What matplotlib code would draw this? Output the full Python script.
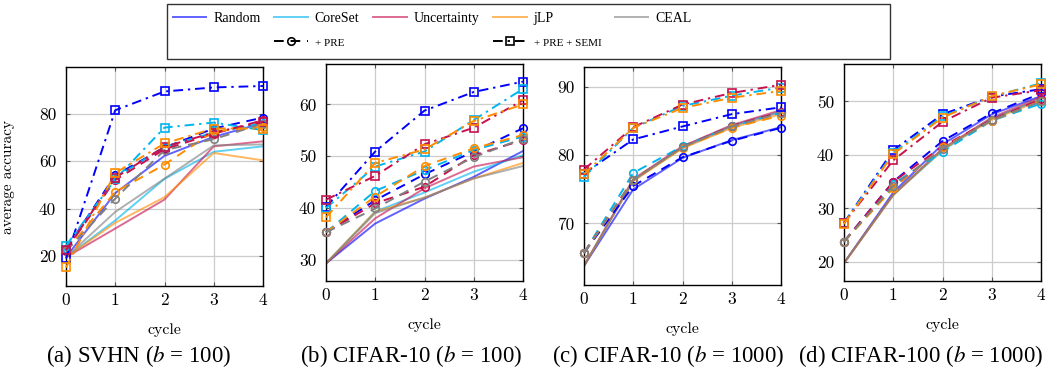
import matplotlib
matplotlib.use("Agg")
import matplotlib.pyplot as plt
from matplotlib.lines import Line2D
from matplotlib.patches import Rectangle

plt.rcParams['font.family'] = ['cmr10', 'DejaVu Serif']
plt.rcParams['axes.unicode_minus'] = False
plt.rcParams['mathtext.fontset'] = 'stix'

cycles = [0, 1, 2, 3, 4]
methods = ['Random', 'CoreSet', 'Uncertainty', 'jLP', 'CEAL']
colors = {'Random': '#0000ff', 'CoreSet': '#00b4f0', 'Uncertainty': '#c8104e',
          'jLP': '#ff8c00', 'CEAL': '#808080'}

# ---- (a) SVHN (b = 100)
svhn_base = {'Random': [19.5, 46.5, 62.2, 70.2, 76.0],
             'CoreSet': [19.5, 35.0, 52.5, 63.9, 66.2],
             'Uncertainty': [19.5, 31.6, 43.8, 66.2, 68.3],
             'jLP': [19.5, 34.0, 44.8, 63.4, 60.3],
             'CEAL': [19.5, 38.6, 52.6, 66.6, 67.0]}
svhn_pre = {'Random': [23.0, 54.0, 65.7, 73.7, 78.3],
            'CoreSet': [23.0, 53.0, 66.0, 72.0, 76.0],
            'Uncertainty': [22.5, 52.0, 65.0, 71.5, 77.2],
            'jLP': [22.0, 47.0, 58.5, 72.5, 74.4],
            'CEAL': [22.0, 44.2, 64.6, 69.2, 75.8]}
svhn_semi = {'Random': [19.0, 81.4, 89.3, 91.0, 91.6],
             'CoreSet': [24.4, 52.3, 74.1, 76.2, 73.0],
             'Uncertainty': [22.5, 53.0, 66.0, 72.0, 76.5],
             'jLP': [15.2, 55.0, 67.4, 73.7, 73.7]}

# ---- (b) CIFAR-10 (b = 100)
c10s_base = {'Random': [29.3, 37.0, 41.8, 46.0, 51.0],
             'CoreSet': [29.3, 39.3, 43.0, 47.0, 50.2],
             'Uncertainty': [29.3, 38.0, 43.8, 48.0, 49.8],
             'jLP': [29.3, 39.3, 42.0, 45.7, 48.7],
             'CEAL': [29.3, 39.0, 42.0, 45.7, 48.1]}
c10s_pre = {'Random': [35.3, 41.5, 46.5, 50.9, 55.4],
            'CoreSet': [35.3, 43.3, 47.3, 51.2, 53.8],
            'Uncertainty': [35.3, 40.9, 44.1, 50.2, 53.1],
            'jLP': [35.3, 42.2, 48.1, 51.5, 54.1],
            'CEAL': [35.3, 39.9, 45.1, 49.8, 53.4]}
c10s_semi = {'Random': [40.2, 50.9, 58.8, 62.4, 64.4],
             'CoreSet': [40.0, 48.0, 50.9, 57.0, 63.0],
             'Uncertainty': [41.6, 46.2, 52.3, 55.5, 60.8],
             'jLP': [38.2, 48.7, 51.3, 56.8, 60.0]}

# ---- (c) CIFAR-10 (b = 1000)
c10l_base = {'Random': [63.8, 75.0, 79.6, 82.2, 84.1],
             'CoreSet': [63.8, 76.3, 81.2, 84.3, 86.4],
             'Uncertainty': [63.8, 76.5, 81.3, 84.4, 86.6],
             'jLP': [63.8, 76.2, 81.0, 84.0, 86.0],
             'CEAL': [63.8, 76.3, 81.1, 84.2, 86.3]}
c10l_pre = {'Random': [65.7, 75.5, 79.7, 82.1, 84.0],
            'CoreSet': [65.7, 77.4, 81.3, 84.2, 86.2],
            'Uncertainty': [65.7, 76.4, 81.2, 84.3, 86.3],
            'jLP': [65.7, 76.4, 81.1, 84.0, 85.8],
            'CEAL': [65.7, 76.4, 81.2, 84.2, 86.2]}
c10l_semi = {'Random': [77.3, 82.3, 84.2, 86.0, 87.0],
             'CoreSet': [76.8, 84.0, 87.2, 88.7, 89.9],
             'Uncertainty': [77.9, 84.1, 87.4, 89.1, 90.3],
             'jLP': [77.2, 84.0, 86.9, 88.4, 89.4]}

# ---- (d) CIFAR-100 (b = 1000)
c100_base = {'Random': [19.8, 33.0, 42.0, 47.6, 51.0],
             'CoreSet': [19.8, 32.6, 40.8, 46.8, 50.4],
             'Uncertainty': [19.8, 32.6, 41.2, 47.0, 50.8],
             'jLP': [19.8, 32.5, 41.0, 46.6, 50.2],
             'CEAL': [19.8, 32.5, 41.1, 46.8, 50.5]}
c100_pre = {'Random': [23.8, 35.0, 42.6, 47.8, 51.5],
            'CoreSet': [23.8, 34.6, 40.6, 46.4, 49.6],
            'Uncertainty': [23.8, 35.0, 41.6, 46.6, 50.4],
            'jLP': [23.8, 33.8, 41.4, 46.4, 50.1],
            'CEAL': [23.8, 34.2, 41.2, 46.5, 50.0]}
c100_semi = {'Random': [27.3, 40.9, 47.6, 50.9, 52.3],
             'CoreSet': [27.3, 40.4, 47.2, 50.9, 53.4],
             'Uncertainty': [27.3, 39.0, 46.2, 50.7, 52.1],
             'jLP': [27.1, 40.2, 47.0, 51.0, 53.2]}

panels = [
    (svhn_base, svhn_pre, svhn_semi, (7.4, 99.6), [20, 40, 60, 80], '(a) SVHN ($b$ = 100)'),
    (c10s_base, c10s_pre, c10s_semi, (25.9, 67.8), [30, 40, 50, 60], '(b) CIFAR-10 ($b$ = 100)'),
    (c10l_base, c10l_pre, c10l_semi, (61.0, 92.9), [70, 80, 90], '(c) CIFAR-10 ($b$ = 1000)'),
    (c100_base, c100_pre, c100_semi, (16.45, 57.0), [20, 30, 40, 50], '(d) CIFAR-100 ($b$ = 1000)'),
]

W, H = 1047, 368
boxes = [(66, 67, 263, 286), (326, 64, 523, 281), (584, 67, 781, 285), (844, 64, 1041, 281)]
caption_x = [139, 411, 668, 921]

fig = plt.figure(figsize=(W / 100, H / 100), dpi=100)

dash_pre = (0, (5, 3.5))
dash_semi = (0, (5, 2.5, 1.2, 2.5))
lw = 1.4
ms = 5.4

for (base, pre, semi, ylim, yt, cap), (x0, y0, x1, y1), cx in zip(panels, boxes, caption_x):
    ax = fig.add_axes([x0 / W, 1 - y1 / H, (x1 - x0) / W, (y1 - y0) / H])
    for m in methods:
        ax.plot(cycles, base[m], color=colors[m], alpha=0.62, lw=lw, zorder=2)
    for m in methods:
        ax.plot(cycles, pre[m], color=colors[m], lw=lw, linestyle=dash_pre, marker='o',
                ms=ms, mfc='none', mew=1.2, zorder=3, clip_on=False)
    for m in methods:
        if m in semi:
            ax.plot(cycles, semi[m], color=colors[m], lw=lw, linestyle=dash_semi, marker='s',
                    ms=ms, mfc='none', mew=1.2, zorder=3, clip_on=False)
    ax.set_xlim(0, 4)
    ax.set_ylim(*ylim)
    ax.set_xticks(cycles)
    ax.set_yticks(yt)
    ax.grid(True, color='#cccccc', lw=0.9)
    ax.set_axisbelow(True)
    ax.tick_params(direction='in', length=3, color='#555555', top=True, right=True,
                   labelsize=12.5)
    ax.tick_params(axis='y', pad=7)
    ax.tick_params(axis='x', pad=5)
    for s in ax.spines.values():
        s.set_linewidth(1.0)
    ax.set_xlabel('cycle', fontsize=11.5, labelpad=11)
    fig.text(cx / W, 1 - 356 / H, cap, ha='center', va='center', fontsize=16.5,
             family=['Liberation Serif', 'DejaVu Serif'])
    if cap.startswith('(a)'):
        ax.set_ylabel('average accuracy', fontsize=11)
        ax.yaxis.set_label_coords((15 - 66) / 197, 0.5)

# legend
blank = Line2D([], [], color='none')
entries = [
    (Line2D([], [], color=colors['Random'], alpha=0.62, lw=lw), 'Random'),
    (blank, ''),
    (Line2D([], [], color=colors['CoreSet'], alpha=0.62, lw=lw), 'CoreSet'),
    (Line2D([], [], color='black', lw=lw, linestyle=dash_pre, marker='o', ms=ms, mfc='none', mew=1.2), '+ PRE'),
    (Line2D([], [], color=colors['Uncertainty'], alpha=0.62, lw=lw), 'Uncertainty'),
    (blank, ''),
    (Line2D([], [], color=colors['jLP'], alpha=0.62, lw=lw), 'jLP'),
    (Line2D([], [], color='black', lw=lw, linestyle=dash_semi, marker='s', ms=ms, mfc='none', mew=1.2), '+ PRE + SEMI'),
    (Line2D([], [], color=colors['CEAL'], alpha=0.62, lw=lw), 'CEAL'),
    (blank, ''),
]
leg = fig.legend([e[0] for e in entries], [e[1] for e in entries], ncol=5,
                 loc='upper left', bbox_to_anchor=(173 / W, 1 - 12 / H),
                 frameon=False, borderpad=0, borderaxespad=0, handlelength=2.4,
                 handletextpad=0.5, columnspacing=1.0, labelspacing=0.8,
                 numpoints=1, prop={'family': ['Liberation Serif', 'DejaVu Serif'], 'size': 10})
for t in leg.get_texts():
    if 'PRE' in t.get_text():
        t.set_fontsize(8)
fig.add_artist(Rectangle((167 / W, 1 - 59 / H), (890 - 167) / W, 55 / H,
                         transform=fig.transFigure, fill=False, edgecolor='#333333', lw=1.0))

fig.savefig('out.png', dpi=100)
